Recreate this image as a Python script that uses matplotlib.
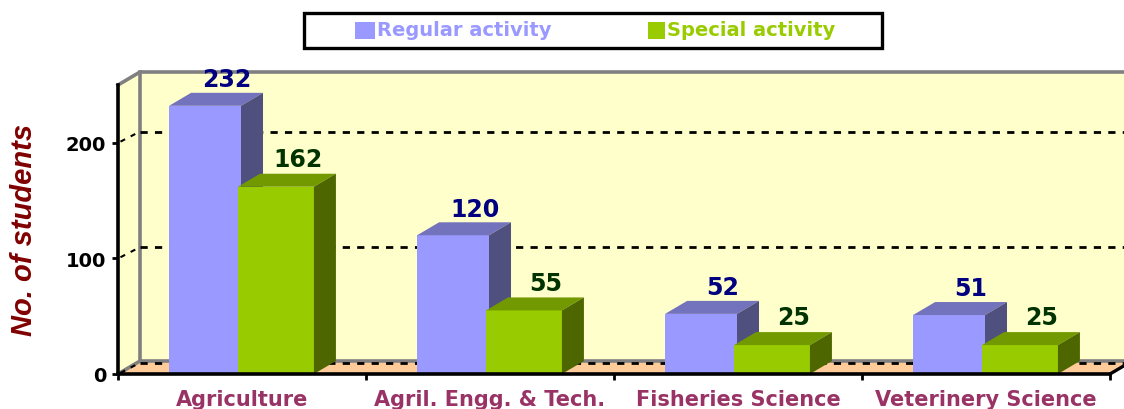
import matplotlib

matplotlib.use('Agg')
import matplotlib.pyplot as plt
from matplotlib.patches import Polygon, Rectangle

plt.rcParams['font.family'] = 'DejaVu Sans'

# Data
categories = ['Agriculture', 'Agril. Engg. & Tech.', 'Fisheries Science', 'Veterinery Science']
regular = [232, 120, 52, 51]
special = [162, 55, 25, 25]
y_ticks = [0, 100, 200]
legend_names = ['Regular activity', 'Special activity']

W, H = 1124, 410
# Front plane of the 3D box in pixels
LEFT, RIGHT, BOTTOM, TOP = 118, 1110, 375, 86

fig = plt.figure(figsize=(W / 100, H / 100), dpi=100, facecolor='white')
ax = fig.add_axes([LEFT / W, 1 - BOTTOM / H, (RIGHT - LEFT) / W, (BOTTOM - TOP) / H])
ax.set_xlim(0, 4)
ax.set_ylim(0, 250)
ax.patch.set_visible(False)

# Depth of the 3D effect in data units
DX = 22 / 248
DY = 13 / 1.156
WALL = '#FFFFCC'
FLOOR = '#FFCC99'
FRAME = '#808080'


def add_poly(points, color, z, **kw):
    ax.add_patch(Polygon(points, closed=True, facecolor=color, edgecolor='none', zorder=z, clip_on=False, **kw))


# Walls and floor
add_poly([(DX, DY), (4.2, DY), (4.2, 250 + DY), (DX, 250 + DY)], WALL, 1)
add_poly([(0, 0), (DX, DY), (DX, 250 + DY), (0, 250)], WALL, 1)
add_poly([(0, 0), (4, 0), (4 + DX, DY), (4.2, DY), (DX, DY)], FLOOR, 1)
ax.plot([0, DX, 4.2], [250, 250 + DY, 250 + DY], color=FRAME, lw=2.6, zorder=2, clip_on=False, solid_joinstyle='miter')
ax.plot([DX, DX], [DY, 250 + DY], color=FRAME, lw=2.6, zorder=2, clip_on=False)
ax.plot([0, DX, 4.2], [0, DY, DY], color=FRAME, lw=2.6, zorder=2, clip_on=False)
ax.plot([4, 4 + DX * 0.7], [0, DY * 0.7], color='black', lw=2.4, zorder=6, clip_on=False)

# Dashed grid on the back wall and the side wall
for t in y_ticks:
    ax.plot([DX, 4.2], [t + DY - 1.5, t + DY - 1.5], color='black', lw=2.0, ls=(0, (2.6, 2.6)), zorder=3, clip_on=False)
    ax.plot([0.01, DX], [t + 1, t + DY - 1.5], color='black', lw=1.5, ls=(0, (2.5, 3)), zorder=3, clip_on=False)


def bar3d(x0, x1, value, front, top, side):
    add_poly([(x0, 0), (x1, 0), (x1, value), (x0, value)], front, 4)
    add_poly([(x0, value), (x1, value), (x1 + DX, value + DY), (x0 + DX, value + DY)], top, 4)
    add_poly([(x1, 0), (x1 + DX, DY), (x1 + DX, value + DY), (x1, value)], side, 4)


# Bars, offsets are fractions of a category
for i in range(len(categories)):
    bar3d(i + 0.206, i + 0.496, regular[i], '#9999FF', '#7373BD', '#50507F')
    ax.text(i + 0.351 + DX, regular[i] + DY + 1.5, str(regular[i]), color='#000080', fontsize=17,
            fontweight='bold', ha='center', va='bottom', zorder=5)
for i in range(len(categories)):
    bar3d(i + 0.484, i + 0.79, special[i], '#99CC00', '#739900', '#4D6600')
    ax.text(i + 0.637 + DX, special[i] + DY + 2.5, str(special[i]), color='#003300', fontsize=17,
            fontweight='bold', ha='center', va='bottom', zorder=5)

# Axes
for name in ['top', 'right']:
    ax.spines[name].set_visible(False)
for name in ['left', 'bottom']:
    ax.spines[name].set_linewidth(2.6)
    ax.spines[name].set_color('black')
    ax.spines[name].set_zorder(6)
ax.set_yticks(y_ticks)
ax.tick_params(axis='y', length=4.5, width=2, pad=4, labelsize=14, labelcolor='black')
for lab in ax.get_yticklabels():
    lab.set_fontweight('bold')
ax.set_xticks(range(5))
ax.set_xticklabels([])
ax.tick_params(axis='x', which='major', length=4.5, width=2)
ax.set_xticks([i + 0.5 for i in range(4)], minor=True)
ax.set_xticklabels(categories, minor=True, fontsize=15, fontweight='bold', color='#993366')
ax.tick_params(axis='x', which='minor', length=0, pad=11)
fig.text(24 / W, 1 - 230 / H, 'No. of students', rotation=90, color='#800000', fontsize=21, fontstyle='italic',
         fontweight='bold', family='Liberation Sans', ha='center', va='center')

# Legend box, drawn in figure fractions
fig.add_artist(Rectangle((304.5 / W, 1 - 49 / H), 577 / W, 35 / H, transform=fig.transFigure, facecolor='white',
                         edgecolor='black', linewidth=2.4))
legend_colors = ['#9999FF', '#99CC00']
for name, col, sx, sw in zip(legend_names, legend_colors, [355, 648], [20, 17]):
    fig.add_artist(Rectangle((sx / W, 1 - 40 / H), sw / W, 17 / H, transform=fig.transFigure, facecolor=col,
                             edgecolor='none'))
    fig.text((sx + sw + 2) / W, 1 - 31 / H, name, color=col, fontsize=14, fontweight='bold', ha='left', va='center')

fig.savefig('out.png', dpi=100)
